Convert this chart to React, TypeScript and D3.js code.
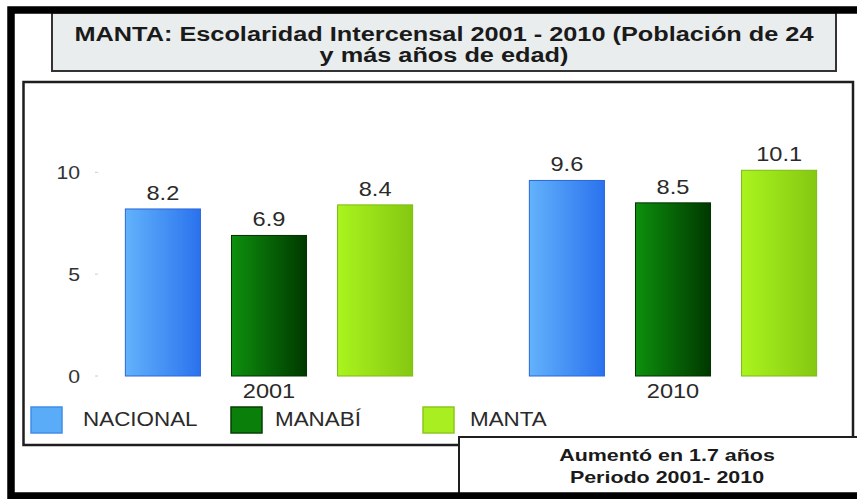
import React from 'react';
import * as d3 from 'd3';

const categories = ['2001', '2010'];
const seriesNames = ['NACIONAL', 'MANABÍ', 'MANTA'];
const nacional = [8.2, 9.6];
const manabi = [6.9, 8.5];
const manta = [8.4, 10.1];
const yTicks = [0, 5, 10];
const titleLines = ['MANTA: Escolaridad Intercensal 2001 - 2010 (Población de 24', 'y más años de edad)'];
const noteLines = ['Aumentó en 1.7 años', 'Periodo 2001- 2010'];

const seriesValues = [nacional, manabi, manta];
const gradients = [
  { id: 'gNac', from: '#62b2fb', to: '#2a72ee', stroke: '#2a66d8', legend: '#5aacf8', legendStroke: '#3f8fe6' },
  { id: 'gMab', from: '#0d900d', to: '#003800', stroke: '#023002', legend: '#0a7f0a', legendStroke: '#044004' },
  { id: 'gMan', from: '#aaf41e', to: '#84c812', stroke: '#7cba12', legend: '#a8ee20', legendStroke: '#8cc81c' },
];

const FONT = '"Liberation Sans", Arial, sans-serif';
const SX = 1.18;

function T({ x, y, size, anchor = 'middle', bold = false, fill = '#2a2a2a', sx = SX, children }: any) {
  return (
    <text
      transform={`translate(${x},${y}) scale(${sx},1)`}
      fontFamily={FONT}
      fontSize={size}
      fontWeight={bold ? 'bold' : 'normal'}
      textAnchor={anchor}
      fill={fill}
    >
      {children}
    </text>
  );
}

export default function App() {
  const W = 857;
  const H = 499;
  const x0 = d3.scaleBand<string>().domain(categories).range([67, 875]);
  const x1 = d3
    .scaleBand<string>()
    .domain(seriesNames)
    .range([0, x0.bandwidth()])
    .paddingInner(0.2925)
    .paddingOuter(0.55);
  const y = d3.scaleLinear().domain([0, 10]).range([376, 172.3]);

  const legendItems = [
    { sq: 31, tx: 83 },
    { sq: 231, tx: 275 },
    { sq: 423, tx: 470 },
  ];

  return (
    <svg
      width={W}
      height={H}
      style={{ position: 'absolute', left: 0, top: 0, display: 'block', background: '#fff' }}
    >
      <defs>
        {gradients.map((g) => (
          <linearGradient key={g.id} id={g.id} x1="0" x2="1" y1="0" y2="0">
            <stop offset="0%" stopColor={g.from} />
            <stop offset="100%" stopColor={g.to} />
          </linearGradient>
        ))}
      </defs>
      <rect x={0} y={0} width={W} height={H} fill="#fff" />

      {/* chart box */}
      <rect x={23.5} y={82} width={829.5} height={363} fill="#fff" stroke="#1e1e1e" strokeWidth={2.5} />

      {/* title box */}
      <rect x={52} y={12.5} width={784} height={58.5} fill="#e9eded" stroke="#333" strokeWidth={2} />
      {titleLines.map((l, i) => (
        <T key={i} x={444} y={41 + i * 21} size={20.5} bold fill="#1a1a1a" sx={1.235}>
          {l}
        </T>
      ))}

      {/* y axis ticks */}
      {yTicks.map((t) => (
        <g key={t}>
          <line x1={95} x2={98} y1={y(t)} y2={y(t)} stroke="#cccccc" strokeWidth={1} />
          <T x={80} y={y(t) + 6.5} size={18} anchor="end" fill="#333">
            {t}
          </T>
        </g>
      ))}

      {/* bars */}
      {categories.map((c, ci) => (
        <g key={c} transform={`translate(${x0(c)},0)`}>
          {seriesNames.map((s, si) => {
            const v = seriesValues[si][ci];
            const bx = x1(s) as number;
            const g = gradients[si];
            return (
              <g key={s}>
                <rect
                  x={bx}
                  y={y(v)}
                  width={x1.bandwidth()}
                  height={y(0) - y(v)}
                  fill={`url(#${g.id})`}
                  stroke={g.stroke}
                  strokeWidth={1}
                />
                <T x={bx + x1.bandwidth() / 2} y={y(v) - 9} size={20} fill="#2a2a2a">
                  {d3.format('.1f')(v)}
                </T>
              </g>
            );
          })}
          <T x={x0.bandwidth() / 2} y={398} size={20} fill="#2a2a2a">
            {c}
          </T>
        </g>
      ))}

      {/* legend */}
      {seriesNames.map((s, i) => (
        <g key={s}>
          <rect
            x={legendItems[i].sq}
            y={407}
            width={31}
            height={26}
            fill={gradients[i].legend}
            stroke={gradients[i].legendStroke}
            strokeWidth={1.5}
          />
          <T x={legendItems[i].tx} y={426} size={19.5} anchor="start" fill="#2a2a2a" sx={1.15}>
            {s}
          </T>
        </g>
      ))}

      {/* note box */}
      <rect x={459} y={437} width={420} height={60} fill="#fff" stroke="#1e1e1e" strokeWidth={2} />
      {noteLines.map((l, i) => (
        <T key={i} x={667} y={461 + i * 22} size={16.5} bold fill="#1a1a1a" sx={1.3}>
          {l}
        </T>
      ))}

      {/* outer frame */}
      <rect x={11} y={10} width={900} height={486} fill="none" stroke="#000" strokeWidth={7.5} />
    </svg>
  );
}
